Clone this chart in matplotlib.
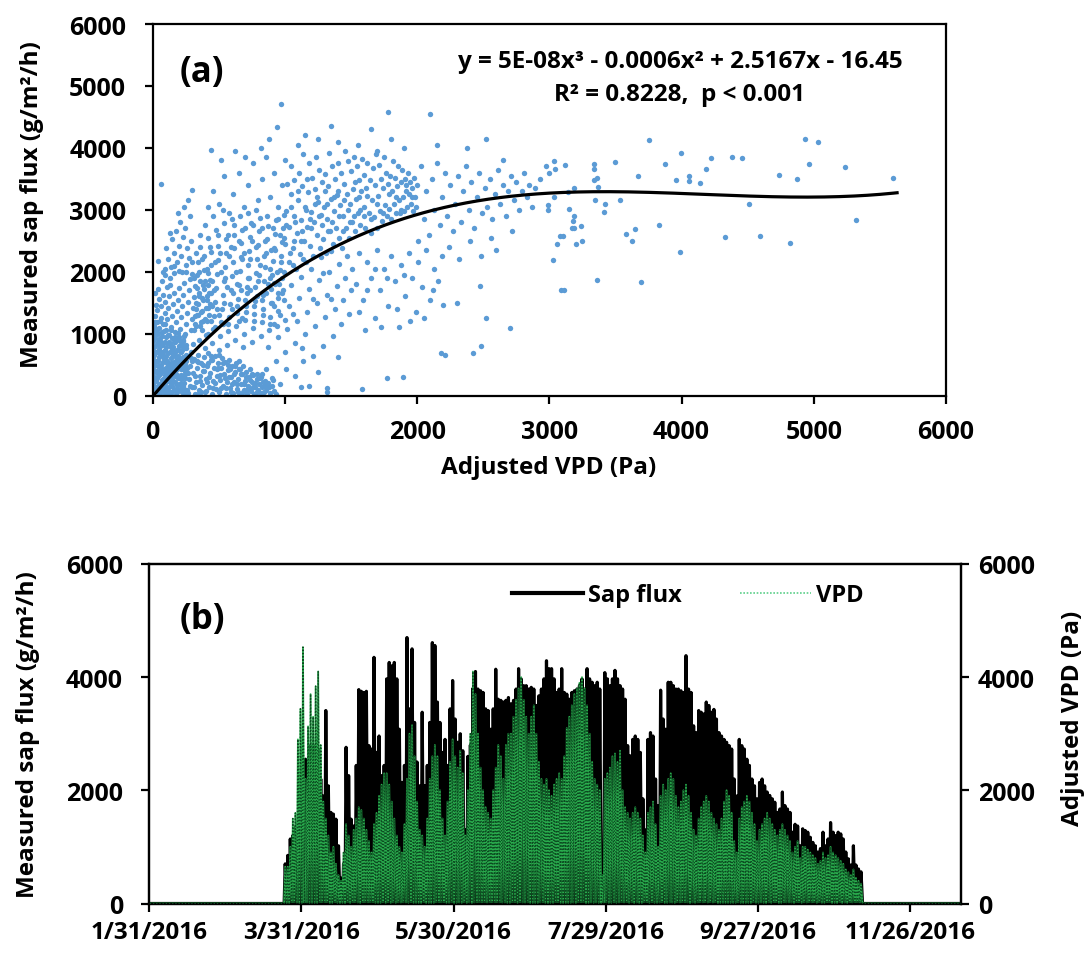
import numpy as np
import pandas as pd
import matplotlib
matplotlib.use("Agg")
import matplotlib.pyplot as plt
import matplotlib.dates as mdates
from matplotlib.lines import Line2D
from matplotlib.ticker import FuncFormatter, MultipleLocator, FixedLocator

plt.rcParams['font.family'] = ['Open Sans', 'DejaVu Sans']
plt.rcParams['font.weight'] = 'bold'

# ---------------- panel (a): hourly sap flux vs adjusted VPD ----------------
# (VPD in Pa, sap flux in g/m2/h), grouped by part of the cloud
night_pts = [
    (4, 30), (10, 160), (6, 310), (14, 470), (3, 620), (9, 780), (18, 930), (22, 80), (27, 240), (31, 400),
    (25, 560), (35, 710), (40, 870), (44, 1010), (48, 20), (52, 190), (57, 350), (61, 500), (55, 660), (66, 820),
    (70, 960), (74, 110), (79, 270), (83, 430), (88, 590), (92, 740), (86, 1040), (97, 50), (101, 210), (106, 370),
    (110, 520), (115, 680), (119, 850), (124, 140), (128, 300), (133, 450), (137, 610), (141, 780), (146, 930), (150, 60),
    (155, 230), (159, 390), (163, 540), (168, 700), (172, 860), (177, 10), (181, 170), (185, 330), (190, 480), (194, 640),
    (199, 800), (203, 950), (207, 100), (212, 260), (216, 420), (221, 570), (225, 730), (229, 880), (234, 40), (238, 200),
    (242, 350), (247, 510), (251, 660), (256, 810), (12, 390), (20, 700), (33, 130), (46, 620), (58, 930), (63, 60),
    (77, 540), (95, 870), (108, 90), (121, 420), (139, 190), (152, 780), (170, 320), (188, 110), (201, 610), (219, 60),
    (236, 470), (16, 990), (29, 1080), (42, 320), (68, 250), (81, 700), (99, 630), (113, 980), (131, 60), (144, 320),
    (161, 690), (175, 510), (192, 280), (210, 880), (227, 160), (245, 600), (7, 540), (38, 560), (53, 800), (72, 400),
    (90, 150), (126, 860), (157, 470), (183, 740), (214, 330), (240, 760), (259, 90), (2, 880), (5, 1150), (11, 1020),
    (15, 80), (25, 380), (8, 660), (35, 1000), (50, 120), (60, 420), (45, 750), (70, 1020), (85, 60), (95, 330),
    (80, 640), (103, 940), (118, 20), (126, 240), (112, 560), (135, 830), (148, 150), (162, 420), (153, 660), (170, 950),
    (183, 60), (196, 300), (180, 560), (205, 720), (218, 190), (232, 420), (222, 820), (248, 280), (256, 560), (241, 960),
    (3, 200), (30, 560), (64, 860), (98, 450), (130, 700), (165, 100), (200, 450), (230, 620), (255, 20), (20, 1180),
    (55, 1200), (90, 1150), (140, 1050), (190, 1010),
    (12, 260), (19, 540), (26, 820), (34, 290), (41, 470), (49, 900), (57, 140), (64, 700), (72, 820), (78, 90),
    (86, 390), (93, 600), (101, 780), (109, 280), (117, 490), (122, 980), (130, 400), (138, 520), (145, 730), (152, 340),
    (160, 870), (166, 220), (174, 620), (178, 410), (186, 920), (193, 520), (198, 180), (206, 530), (212, 700), (220, 290),
    (226, 510), (233, 900), (239, 110), (244, 390), (250, 760), (258, 450),
]
low_pts = [
    (265, 40), (272, 260), (280, 480), (288, 700), (295, 130), (303, 370), (310, 590), (318, 20), (326, 220), (333, 450),
    (341, 650), (349, 90), (356, 310), (364, 530), (372, 170), (379, 400), (387, 620), (395, 50), (402, 260), (410, 470),
    (418, 690), (425, 140), (433, 360), (441, 570), (448, 30), (456, 230), (464, 440), (471, 640), (479, 110), (487, 320),
    (494, 530), (502, 60), (510, 250), (517, 450), (525, 610), (533, 160), (540, 350), (548, 540), (556, 20), (563, 220),
    (571, 410), (579, 580), (586, 120), (594, 300), (602, 480), (609, 40), (617, 210), (625, 380), (632, 530), (640, 100),
    (648, 270), (655, 430), (663, 30), (671, 180), (678, 340), (686, 470), (694, 90), (701, 240), (709, 380), (717, 20),
    (724, 160), (732, 300), (740, 420), (747, 80), (755, 210), (763, 330), (770, 30), (778, 140), (786, 260), (793, 60),
    (801, 180), (809, 290), (816, 40), (824, 130), (832, 220), (840, 60), (848, 150), (280, 150), (300, 560), (322, 320),
    (345, 540), (368, 60), (392, 390), (415, 210), (438, 630), (460, 120), (485, 420), (507, 330), (530, 520), (552, 120),
    (575, 300), (598, 190), (620, 470), (645, 60), (668, 350), (690, 180), (715, 90), (738, 250), (760, 140), (790, 350),
    (820, 300), (860, 90), (875, 200), (890, 40), (905, 160), (920, 80),
    (270, 360), (290, 600), (315, 130), (335, 550), (360, 240), (383, 500), (405, 80), (428, 300), (452, 580), (475, 200),
    (498, 450), (520, 120), (545, 280), (568, 500), (590, 60), (612, 350), (636, 180), (660, 420), (683, 50), (707, 300),
    (730, 120), (753, 350), (776, 200), (800, 90), (830, 350), (850, 240), (880, 130), (910, 250), (930, 30), (270, 640),
    (340, 20), (420, 520), (500, 650), (585, 420), (650, 560),
]
upper_left_pts = [
    (8, 1120), (15, 1290), (22, 1460), (30, 1180), (37, 1380), (45, 1560), (52, 1090), (60, 1250), (67, 1440), (75, 1630),
    (82, 1150), (90, 1330), (97, 1510), (105, 1060), (112, 1230), (120, 1410), (127, 1600), (135, 1780), (142, 1110), (150, 1290),
    (157, 1470), (165, 1660), (172, 1020), (180, 1190), (187, 1370), (195, 1550), (202, 1730), (210, 1080), (217, 1260), (225, 1440),
    (232, 1620), (240, 1820), (247, 990), (255, 1150), (262, 1330), (270, 1510), (277, 1700), (285, 1880), (292, 1060), (300, 1230),
    (307, 1410), (315, 1590), (322, 1770), (330, 1120), (337, 1300), (345, 1480), (352, 1660), (360, 1850), (367, 1180), (375, 1360),
    (382, 1540), (390, 1720), (397, 1240), (405, 1420), (412, 1600), (420, 1790), (427, 1300), (435, 1480), (442, 1660), (450, 1850),
    (40, 1720), (68, 1850), (95, 1940), (130, 1900), (160, 1980), (200, 2010), (18, 1660), (250, 1990), (110, 1760), (300, 1960),
    (350, 2000), (420, 1980),
]
left_sparse_pts = [
    (44, 2170), (65, 3410), (90, 2050), (120, 2200), (105, 2380), (140, 2080), (160, 2300), (150, 2520), (185, 2150), (200, 2420),
    (175, 2650), (215, 2250), (230, 2560), (210, 2800), (250, 2100), (260, 2380), (245, 2700), (275, 2220), (290, 2500), (280, 2900),
    (300, 2150), (130, 2620), (190, 2950), (235, 3050), (270, 3150), (300, 3320), (225, 2000), (165, 2090), (80, 1990),
]
rising_pts = [
    (305, 830), (312, 1050), (318, 1280), (325, 1500), (332, 1730), (338, 1950), (345, 2150), (352, 900), (358, 1120), (365, 1350),
    (372, 1570), (378, 1790), (385, 2020), (392, 2250), (398, 760), (405, 980), (412, 1200), (418, 1420), (425, 1650), (432, 1870),
    (438, 2100), (445, 2320), (452, 850), (458, 1070), (465, 1290), (472, 1510), (478, 1740), (485, 1960), (492, 2190), (498, 2410),
    (505, 740), (512, 960), (518, 1180), (525, 1400), (532, 1620), (538, 1850), (545, 2070), (552, 2300), (558, 2520), (565, 820),
    (572, 1040), (578, 1260), (585, 1480), (592, 1700), (598, 1930), (605, 2150), (612, 2380), (618, 2600), (625, 900), (632, 1120),
    (638, 1340), (645, 1560), (652, 1790), (658, 2010), (665, 2240), (672, 2460), (678, 2680), (685, 780), (692, 1000), (698, 1220),
    (705, 1440), (712, 1660), (718, 1890), (725, 2110), (732, 2340), (738, 2560), (745, 2780), (752, 870), (758, 1090), (765, 1310),
    (772, 1530), (778, 1750), (785, 1980), (792, 2200), (798, 2430), (805, 2650), (812, 2870), (818, 960), (825, 1180), (832, 1400),
    (838, 1620), (845, 1850), (852, 2070), (858, 2300), (865, 2520), (872, 2740), (878, 1050), (885, 1270), (892, 1490), (898, 1720),
    (905, 1940), (912, 2170), (918, 2390), (925, 2610), (932, 2830), (938, 1130), (945, 1360), (952, 1580), (958, 1800), (965, 2030),
    (972, 2250), (978, 2480), (985, 2700), (992, 2920), (998, 1220), (360, 2400), (420, 2550), (480, 2680), (540, 2780), (600, 2850),
    (660, 2900), (720, 2950), (780, 3000),
    (330, 1400), (350, 1600), (370, 1050), (395, 1850), (410, 1550), (440, 1200), (462, 1700), (490, 1400), (515, 2000), (535, 1150),
    (560, 1750), (580, 2250), (600, 1400), (628, 2000), (650, 1200), (668, 1700), (690, 2300), (710, 1350), (730, 1900), (750, 2500),
    (770, 1200), (790, 1600), (810, 2100), (835, 1300), (850, 2500), (870, 1800), (895, 2350), (915, 1450), (940, 2000), (960, 2600),
    (985, 1700),
    (310, 1900), (330, 2300), (355, 2600), (375, 2200), (400, 2750), (415, 2050), (435, 2400), (455, 2900), (470, 2150), (495, 2600),
    (510, 2300), (530, 3000), (550, 1900), (570, 2600), (595, 2400), (615, 2750), (635, 1800), (655, 2500), (675, 2200), (700, 2700),
    (715, 1750), (740, 2200), (760, 2750), (785, 2400), (805, 1950), (825, 2700), (845, 2250), (868, 2900), (888, 2050), (908, 2700),
    (928, 2350), (950, 2850), (970, 2150), (990, 2550), (320, 1150), (345, 1300), (380, 1200), (420, 1000), (450, 1450), (475, 1100),
    (505, 1300), (540, 1500), (570, 1150), (610, 1650), (640, 1450), (675, 1250), (700, 1550), (735, 1700), (765, 1450), (800, 1850),
    (830, 1550), (860, 1650), (890, 1900), (925, 1800), (950, 1650), (980, 1900),
]
below_curve_pts = [
    (855, 420), (870, 780), (885, 1150), (900, 1500), (915, 1820), (930, 560), (945, 940), (960, 1300), (975, 1650), (990, 2000),
    (1005, 700), (1020, 1080), (1035, 1440), (1050, 1780), (1065, 2100), (1080, 850), (1095, 1210), (1110, 1580), (1125, 1920), (1140, 2200),
    (1155, 990), (1170, 1350), (1185, 1720), (1200, 2050), (1215, 640), (1230, 1120), (1245, 1490), (1260, 1860), (1275, 2230), (1290, 800),
    (1305, 1260), (1320, 1630), (1335, 2000), (1350, 2340), (1365, 960), (1380, 1400), (1395, 1770), (1410, 2120), (1425, 1150), (1440, 1550),
    (1455, 1900), (1470, 2250), (1485, 1320), (1500, 1700), (900, 280), (960, 180), (1010, 420), (1080, 320), (1140, 560), (1180, 150),
    (1250, 380), (1320, 120), (1400, 620), (1130, 760), (1060, 1320), (990, 1540), (920, 1160), (1290, 1980), (1210, 1560), (1350, 1560),
    (1510, 2050), (1540, 1800), (1560, 2300), (1590, 1550), (1620, 2150), (1650, 1900), (1680, 1250), (1700, 2350), (1720, 1700), (1750, 2050),
    (1780, 1450), (1800, 2250), (1830, 1850), (1860, 1100), (1880, 2100), (1910, 1600), (1940, 2300), (1960, 1900), (1990, 1350), (2010, 2150),
    (2040, 1750), (2070, 2350), (2100, 1550), (2130, 2050), (2160, 1850), (2190, 2250), (1560, 1350), (1610, 1050), (1730, 1100), (1850, 1400),
    (1770, 1900), (2050, 1250), (2198, 1468), (1620, 1700), (1680, 2050), (1900, 1950), (2120, 1700), (1950, 1200),
]
midday_pts = [
    (1005, 2450), (1012, 2980), (1020, 3420), (1028, 2150), (1035, 2720), (1043, 3250), (1050, 3700), (1058, 2380), (1066, 2900), (1073, 3480),
    (1081, 2050), (1089, 2620), (1096, 3150), (1104, 3600), (1112, 2280), (1119, 2840), (1127, 3380), (1135, 3900), (1142, 2500), (1150, 3050),
    (1158, 2150), (1165, 2720), (1173, 3280), (1181, 3760), (1188, 2420), (1196, 2960), (1204, 3520), (1211, 2250), (1219, 2800), (1227, 3330),
    (1234, 3850), (1242, 2600), (1250, 3120), (1257, 3650), (1265, 2380), (1273, 2920), (1280, 3450), (1288, 2520), (1296, 3050), (1303, 3580),
    (1311, 2300), (1319, 2850), (1326, 3380), (1334, 3920), (1342, 2650), (1349, 3180), (1357, 3700), (1365, 2450), (1372, 2980), (1380, 3500),
    (1388, 2700), (1395, 3240), (1403, 3760), (1411, 2550), (1418, 3080), (1426, 3600), (1434, 2380), (1441, 2900), (1449, 3420), (1457, 3950),
    (1464, 2700), (1472, 3250), (1480, 3780), (1487, 2550), (1495, 3100), (1503, 3620), (1510, 2800), (1518, 3330), (1526, 3860), (1533, 2650),
    (1541, 3180), (1549, 3700), (1556, 2950), (1564, 3480), (1572, 2750), (1579, 3300), (1587, 3820), (1595, 3050), (1602, 3560), (1610, 2700),
    (1618, 3230), (1625, 3750), (1633, 2950), (1641, 3480), (1648, 2620), (1656, 3150), (1664, 3680), (1671, 2880), (1679, 3400), (1687, 3900),
    (1694, 2700), (1702, 3220), (1710, 3720), (1717, 2980), (1725, 3500), (1733, 2820), (1740, 3350), (1748, 3850), (1756, 3080), (1763, 3600),
    (1771, 2900), (1779, 3420), (1786, 3020), (1794, 3550), (1802, 2850), (1809, 3300), (1817, 3780), (1825, 3100), (1832, 3520), (1840, 2950),
    (1848, 3380), (1855, 3700), (1863, 3150), (1871, 2950), (1878, 3450), (1886, 3650), (1894, 3200), (1901, 2980), (1909, 3500), (1917, 3300),
    (1924, 3050), (1932, 3600), (1940, 3250), (1947, 3450), (1955, 3100), (1963, 3350), (1970, 2980), (1978, 3520), (1986, 3200), (1993, 3050),
    (2000, 3400),
    (1040, 2300), (1080, 2800), (1120, 2500), (1160, 3000), (1200, 2700), (1240, 3200), (1280, 2750), (1320, 3100), (1360, 2800), (1400, 3300),
    (1440, 2650), (1480, 3000), (1520, 2900), (1560, 3200), (1600, 2900),
    (1010, 2750), (1045, 3050), (1070, 2500), (1100, 3300), (1130, 2650), (1170, 3500), (1190, 2850), (1225, 3100), (1260, 2900), (1300, 3300),
    (1330, 2650), (1370, 3200), (1410, 2900), (1450, 3150), (1490, 2800), (1530, 3450), (1570, 3000), (1615, 3350), (1655, 2850), (1700, 3100),
    (1745, 2950), (1790, 3250), (1840, 3200), (1880, 3000), (1920, 3400), (1960, 3200),
]
top_pts = [
    (420, 3050), (460, 3300), (500, 3100), (540, 3550), (575, 2950), (610, 3250), (650, 3600), (690, 3050), (720, 3400), (760, 3750),
    (800, 3150), (830, 3500), (860, 3850), (890, 3200), (920, 3600), (950, 3050), (975, 3400), (1000, 3800), (520, 3800), (700, 3850),
    (820, 4000), (1100, 4050), (1150, 4200), (1250, 4150), (1400, 4100), (1550, 4050), (1650, 4300), (1800, 4150), (1900, 4000), (973, 4706),
    (937, 4339), (440, 3967), (1782, 4571), (2100, 4544), (1350, 4350), (1700, 3950), (620, 3950), (880, 4150),
]
afternoon_pts = [
    (2010, 2500), (2030, 3700), (2050, 2850), (2070, 3300), (2090, 2600), (2110, 3500), (2130, 3000), (2150, 3750), (2170, 2750), (2190, 3200),
    (2210, 3600), (2230, 2900), (2250, 3400), (2270, 2650), (2290, 3100), (2310, 3550), (2330, 2800), (2350, 3300), (2370, 3700), (2390, 3000),
    (2410, 3450), (2430, 2700), (2450, 3200), (2470, 3600), (2490, 2950), (2510, 3350), (2530, 3050), (2550, 3500), (2570, 2850), (2590, 3250),
    (2610, 3650), (2630, 3100), (2650, 3400), (2670, 2900), (2690, 3300), (2710, 3550), (2730, 3150), (2750, 3450), (2770, 3000), (2790, 3300),
    (2810, 3600), (2830, 3200), (2850, 3400), (2870, 3050), (2890, 3350), (2240, 2400), (2400, 2500), (2560, 2550), (2320, 2200), (2480, 2250),
    (2150, 4050), (2380, 4000), (2650, 3800), (2520, 4150), (2600, 2350), (2720, 2650),
]
high_vpd_pts = [
    (3755, 4128), (3993, 3923), (4933, 4150), (5031, 4101), (4379, 3858), (4455, 3831), (4220, 3831), (3872, 3745), (3496, 3767), (4962, 3745),
    (5234, 3697), (4186, 3654), (4738, 3567), (4875, 3497), (5602, 3519), (3671, 3546), (3961, 3475), (4059, 3546), (4059, 3459), (4141, 3432),
    (3338, 3734), (3338, 3654), (3335, 3475), (3360, 3519), (3365, 3368), (3119, 3724), (3034, 3789), (3045, 3654), (2975, 3708), (3000, 3600),
    (2928, 3492), (3140, 3287), (3186, 3357), (3034, 3206), (3346, 3157), (3538, 3157), (3420, 3098), (3412, 2968), (2991, 3076), (2991, 2995),
    (3150, 3006), (3185, 2898), (3177, 2822), (3190, 2709), (3236, 2736), (3170, 2709), (3831, 2752), (3647, 2693), (3578, 2601), (3628, 2488),
    (4508, 3092), (5322, 2828), (3081, 2574), (3105, 2574), (3055, 2450), (3203, 2439), (3248, 2493), (4328, 2558), (4595, 2574), (4822, 2466),
    (3991, 2315), (3031, 2196), (3359, 1862), (3692, 1835), (3092, 1711), (3113, 1711),
]
stray_low_pts = [
    (1770, 280), (1890, 300), (1320, 60), (1580, 110), (1124, 130), (2178, 685), (2215, 660), (2482, 793), (2425, 685), (2518, 1250),
    (2700, 1090), (2477, 1765), (2300, 1500),
]

# cubic trend: y = a*x^3 + b*x^2 + c*x + d  (printed rounded in the equation)
fit_coef = [4.97e-8, -6.23e-4, 2.5167, -16.45]
fit_r2 = 0.8228
fit_vpd_max = 5630

# ---------------- panel (b): daily course of sap flux and VPD ----------------
axis_start = "2016-01-31"
axis_end = "2016-12-16"
season_start = "2016-03-24"
tick_step_days = 60
peak_hour = 14
night_hour = 4

# daily maximum sap flux (g/m2/h), from season_start onwards
sap_peak = [
    700, 850, 1140, 1200, 1350, 1400, 1450, 1500, 2550, 2440, 2790, 2790, 2790, 2730, 2200, 1900, 3410, 2080, 1610, 1580,
    1490, 1020, 450, 700, 2760, 2260, 1490, 1370, 2440, 3780, 3750, 3730, 3750, 2790, 2730, 4350, 2670, 2960, 2260, 2440,
    3970, 4260, 4200, 4260, 3970, 3080, 2140, 2440, 4700, 3440, 4500, 3200, 2500, 2080, 3380, 2080, 2440, 3200, 4610, 4560,
    3560, 3200, 2670, 2900, 2440, 3440, 3940, 3260, 2850, 3000, 2700, 1300, 2600,
    2800, 3800, 4100, 3790, 3760, 3730, 3440, 3410, 3080, 3440, 4140, 3610, 3590, 3560, 3590, 3640, 3530, 3590, 3790, 4150,
    3970, 3850, 3850, 3790, 3820, 3790, 3500, 3670, 3790, 3970, 4290, 4150, 4150, 3970, 3730, 3790, 4150, 3730, 3700, 3610,
    3730, 3760, 3790, 3850, 3970, 3790, 4150, 3970, 3910, 3850, 3910, 3790, 600, 4080, 3970, 3850, 3970, 4120, 3970, 3850,
    3790, 3610, 2790, 2610, 2900, 2960, 2900, 2670, 1850, 1300, 2900, 3020,
    2960, 2200, 1730, 3770, 3260, 3080, 3910, 3910, 3850, 3790, 3790, 3760, 3730, 4380, 3790, 3730, 3140, 3020, 3410, 3380,
    3350, 3560, 3500, 3380, 3430, 3260, 3020, 2960, 2900, 2850, 2790, 2730, 2200, 1900, 2900, 2790, 2730, 2550, 2440, 2200,
    2080, 1850, 2140, 2200, 2080, 1970, 1910, 1850, 1790, 1610, 1670, 1970, 1730, 1670, 1610, 1260, 1400, 1370, 1020, 1320,
    1290, 1260, 1170, 1080, 1020, 910, 970, 1260, 1020, 1140, 1430, 1260, 1200, 1260, 1230, 1140, 910, 790, 680, 1020,
    680, 610, 560,
]
# daily maximum adjusted VPD (Pa), same days
vpd_peak = [
    650, 650, 1000, 1500, 1600, 2900, 3440, 4530, 2200, 3130, 3700, 3300, 3840, 4100, 2800, 1800, 1500, 1200, 900, 1000,
    700, 500, 400, 900, 1400, 1200, 1000, 1300, 1500, 1700, 1650, 1500, 1300, 1100, 900, 1400, 1600, 1900, 2100, 2300,
    2300, 2100, 1800, 1500, 1200, 1000, 900, 1400, 2200, 3000, 3150, 2600, 1800, 1300, 1200, 1000, 1500, 2200, 2600, 2800,
    2600, 2000, 1500, 1200, 1800, 2500, 2900, 2600, 2400, 2700, 2300, 1200, 2000,
    3000, 4100, 3700, 3000, 2400, 2000, 1700, 1600, 1500, 2000, 2400, 2800, 2600, 2200, 2800, 3000, 3000, 3300, 3600, 3800,
    4000, 3600, 3300, 3000, 3300, 3500, 3000, 2500, 2200, 2100, 2200, 2000, 1900, 2100, 2200, 2300, 2200, 2600, 3100, 3300,
    3500, 3700, 3800, 3900, 4000, 3800, 3500, 3000, 2500, 2200, 2100, 2000, 500, 2200, 2300, 2400, 2600, 2650, 2500, 2700,
    2000, 1700, 1600, 1500, 1600, 1700, 1600, 1500, 1200, 900, 1600, 1700,
    1800, 1400, 1000, 1900, 2100, 2000, 2200, 2300, 2200, 1900, 1700, 1800, 2000, 2100, 1900, 1600, 1300, 1200, 1500, 1700,
    1800, 1900, 1800, 1600, 1500, 1400, 1300, 1500, 1800, 2000, 1900, 1600, 1100, 900, 1500, 1700, 1800, 1900, 1800, 1600,
    1400, 1100, 1300, 1400, 1500, 1600, 1500, 1400, 1300, 1200, 1300, 1400, 1300, 1200, 1100, 900, 1000, 1100, 800, 1000,
    1000, 950, 900, 850, 800, 700, 750, 900, 800, 850, 1000, 900, 850, 800, 750, 700, 600, 550, 500, 600,
    450, 400, 350,
]

# ---------------- styling ----------------
scatter_color = '#5b9bd5'
vpd_color = '#2aad4e'
vpd_dot_color = '#0b4a20'
legend_vpd_color = '#5ccf8a'
tick_fs = 18
date_fs = 17.5
label_fs = 17.5

W, H = 1088, 954
fig = plt.figure(figsize=(W / 100, H / 100), dpi=100)


def px_box(left, top, right, bottom):
    return [left / W, 1 - bottom / H, (right - left) / W, (bottom - top) / H]


# ---------- (a) ----------
ax1 = fig.add_axes(px_box(152.6, 25, 946, 396.5))
groups = [night_pts, low_pts, upper_left_pts, left_sparse_pts, rising_pts, below_curve_pts,
          midday_pts, top_pts, afternoon_pts, high_vpd_pts, stray_low_pts]
pts = np.array([p for g in groups for p in g], dtype=float)
ax1.scatter(pts[:, 0], pts[:, 1], s=15, color=scatter_color, linewidths=0, zorder=2)

a, b, c, d = fit_coef
xf = np.linspace(0, fit_vpd_max, 400)
ax1.plot(xf, np.polyval(fit_coef, xf), color='black', lw=2.3, zorder=3)

ax1.set_xlim(0, 6000)
ax1.set_ylim(0, 6000)
ax1.xaxis.set_major_locator(MultipleLocator(1000))
ax1.yaxis.set_major_locator(MultipleLocator(1000))
ax1.tick_params(axis='x', direction='out', length=6, width=1.6, labelsize=tick_fs, pad=11)
ax1.tick_params(axis='y', direction='out', length=6, width=1.6, labelsize=tick_fs, pad=13)
for sp in ax1.spines.values():
    sp.set_linewidth(1.6)

eq_text = f"y = {a:.0E}x\u00b3 - {abs(b):.4f}x\u00b2 + {c:.4f}x - {abs(d):.2f}"
fig.text(680 / W, 1 - 62 / H, eq_text, ha='center', va='center', fontsize=17.5, fontweight='bold')
fig.text(680 / W, 1 - 95 / H, f"R\u00b2 = {fit_r2:.4f},  p < 0.001",
         ha='center', va='center', fontsize=17.5, fontweight='bold')
fig.text(202 / W, 1 - 73 / H, "(a)", ha='center', va='center', fontsize=25, fontweight='bold')
fig.text(549 / W, 1 - 468 / H, "Adjusted VPD (Pa)", ha='center', va='center', fontsize=label_fs, fontweight='bold')
fig.text(32 / W, 1 - 205 / H, "Measured sap flux (g/m\u00b2/h)", ha='center', va='center',
         rotation=90, fontsize=label_fs, fontweight='bold')

# ---------- (b) ----------
ax2 = fig.add_axes(px_box(149.3, 565, 961, 904.5))
ax2b = ax2.twinx()

all_days = pd.date_range(axis_start, axis_end, freq='D')
n = min(len(sap_peak), len(vpd_peak))
season_days = pd.date_range(season_start, periods=n, freq='D')
sap_day = pd.Series(0.0, index=all_days)
vpd_day = pd.Series(0.0, index=all_days)
sap_day.loc[season_days] = np.asarray(sap_peak[:n], dtype=float)
vpd_day.loc[season_days] = np.asarray(vpd_peak[:n], dtype=float)

dn = mdates.date2num(all_days.to_pydatetime())
t = np.column_stack([dn + night_hour / 24, dn + peak_hour / 24]).ravel()
sap_t = np.column_stack([np.zeros(len(dn)), sap_day.values]).ravel()
vpd_t = np.column_stack([np.zeros(len(dn)), vpd_day.values]).ravel()

ax2.plot(t, sap_t, color='black', lw=2.3, zorder=2)
ax2b.plot(t, vpd_t, color=vpd_color, lw=1.3, zorder=2)
ax2b.plot(t, vpd_t, color=vpd_dot_color, lw=1.0, ls=(0, (1, 1.3)), zorder=3)

x0 = mdates.date2num(pd.Timestamp(axis_start))
x1 = mdates.date2num(pd.Timestamp(axis_end))
ax2.set_xlim(x0, x1)
ax2.set_ylim(0, 6000)
ax2b.set_ylim(0, 6000)
tick_days = pd.date_range(axis_start, axis_end, freq=f"{tick_step_days}D")
ax2.xaxis.set_major_locator(FixedLocator(mdates.date2num(tick_days.to_pydatetime())))
ax2.xaxis.set_major_formatter(FuncFormatter(
    lambda v, p: (lambda dt: f"{dt.month}/{dt.day}/{dt.year}")(mdates.num2date(v))))
ax2.yaxis.set_major_locator(MultipleLocator(2000))
ax2b.yaxis.set_major_locator(MultipleLocator(2000))
ax2.tick_params(axis='x', direction='out', length=6, width=1.6, labelsize=date_fs, pad=6)
ax2.tick_params(axis='y', direction='out', length=6, width=1.6, labelsize=tick_fs, pad=13)
ax2b.tick_params(axis='y', direction='out', length=6, width=1.6, labelsize=tick_fs, pad=6)
for axx in (ax2, ax2b):
    for sp in axx.spines.values():
        sp.set_linewidth(1.6)

# keep the lowest left label clear of the first date label
ax2.get_yticklabels()[0].set_verticalalignment('baseline')

fig.text(202 / W, 1 - 620 / H, "(b)", ha='center', va='center', fontsize=25, fontweight='bold')
fig.text(28 / W, 1 - 735 / H, "Measured sap flux (g/m\u00b2/h)", ha='center', va='center',
         rotation=90, fontsize=label_fs, fontweight='bold')
fig.text(1073 / W, 1 - 718 / H, "Adjusted VPD (Pa)", ha='center', va='center',
         rotation=90, fontsize=label_fs, fontweight='bold')

handles = [Line2D([], [], color='black', lw=3.0),
           Line2D([], [], color=legend_vpd_color, lw=1.2, ls=(0, (1, 1)))]
ax2b.legend(handles, ["Sap flux", "VPD"], loc='upper left', bbox_to_anchor=(512 / W, 1 - 584 / H),
            bbox_transform=fig.transFigure, ncol=2, frameon=False, fontsize=17,
            handlelength=3.0, handletextpad=0.2, columnspacing=2.5, borderpad=0, borderaxespad=0)

fig.savefig("out.png", dpi=100)
